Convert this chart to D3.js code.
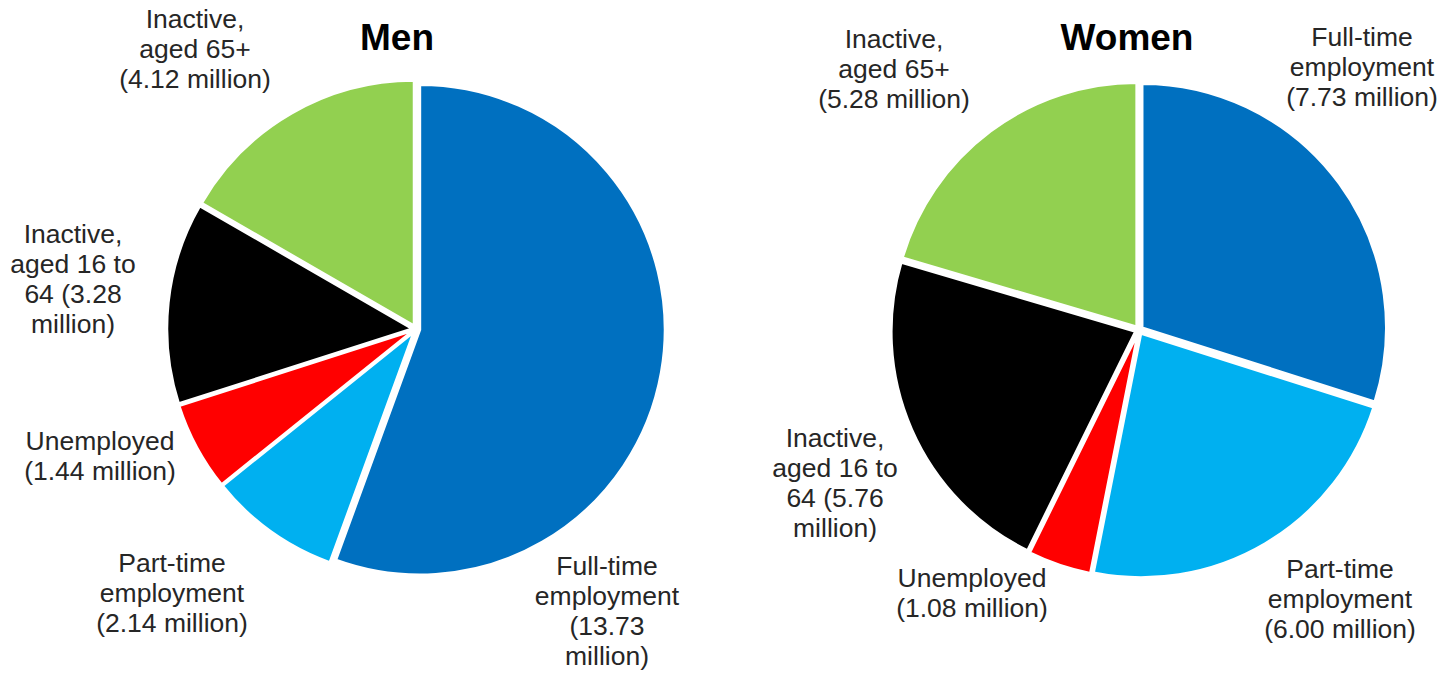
<!DOCTYPE html>
<html>
<head>
<meta charset="utf-8">
<script src="https://cdn.jsdelivr.net/npm/d3@7"></script>
<style>
  html, body { margin: 0; padding: 0; background: #fff; }
  svg { display: block; }
</style>
</head>
<body>
<svg id="chart" width="1446" height="674"></svg>
<script>
// ---- Data ----
const categories = ["Full-time employment", "Part-time employment", "Unemployed", "Inactive, aged 16 to 64", "Inactive, aged 65+"];
const menValues = [13.73, 2.14, 1.44, 3.28, 4.12];
const womenValues = [7.73, 6.00, 1.08, 5.76, 5.28];
const sliceColors = ["#0070C0", "#00B0F0", "#FF0000", "#000000", "#92D050"];
const titles = ["Men", "Women"];
// label text lines per chart (in category order)
const menLabels = [
  ["Full-time", "employment", "(13.73", "million)"],
  ["Part-time", "employment", "(2.14 million)"],
  ["Unemployed", "(1.44 million)"],
  ["Inactive,", "aged 16 to", "64 (3.28", "million)"],
  ["Inactive,", "aged 65+", "(4.12 million)"]
];
const womenLabels = [
  ["Full-time", "employment", "(7.73 million)"],
  ["Part-time", "employment", "(6.00 million)"],
  ["Unemployed", "(1.08 million)"],
  ["Inactive,", "aged 16 to", "64 (5.76", "million)"],
  ["Inactive,", "aged 65+", "(5.28 million)"]
];

// ---- Layout (positions/styles) ----
const layout = [
  { cx: 416, cy: 329, r: 245, titleX: 397, titleY: 50,
    labelPos: [[607, 575], [172, 572], [100, 450], [73, 243], [195, 28]] },
  { cx: 1139, cy: 330, r: 244, titleX: 1127, titleY: 50,
    labelPos: [[1362, 46], [1340, 578], [972, 587], [835, 447], [894, 48]] }
];
const datasets = [menValues, womenValues];
const labelSets = [menLabels, womenLabels];

const svg = d3.select("#chart");
const color = d3.scaleOrdinal().domain(categories).range(sliceColors);
const pie = d3.pie().sort(null).value(d => d.value);
const explode = 4;
const lineH = 30;

datasets.forEach((vals, k) => {
  const L = layout[k];
  const arc = d3.arc().innerRadius(0).outerRadius(L.r);
  const data = categories.map((c, i) => ({ cat: c, value: vals[i] }));
  const g = svg.append("g").attr("transform", `translate(${L.cx},${L.cy})`);
  g.selectAll("path")
    .data(pie(data))
    .join("path")
    .attr("d", arc)
    .attr("transform", d => {
      const a = (d.startAngle + d.endAngle) / 2;
      return `translate(${explode * Math.sin(a)},${-explode * Math.cos(a)})`;
    })
    .attr("fill", d => color(d.data.cat))
    .attr("stroke", "#fff")
    .attr("stroke-width", 2.5)
    .attr("stroke-linejoin", "miter");

  svg.append("text")
    .attr("x", L.titleX).attr("y", L.titleY)
    .attr("text-anchor", "middle")
    .attr("font-family", "Liberation Sans, Arial, sans-serif")
    .attr("font-weight", "bold")
    .attr("font-size", 37)
    .attr("fill", "#000")
    .text(titles[k]);

  labelSets[k].forEach((lines, i) => {
    const [x, y] = L.labelPos[i];
    const t = svg.append("text")
      .attr("text-anchor", "middle")
      .attr("font-family", "Liberation Sans, Arial, sans-serif")
      .attr("font-size", 26.5)
      .attr("fill", "#262626");
    lines.forEach((ln, j) => {
      t.append("tspan").attr("x", x).attr("y", y + j * lineH).text(ln);
    });
  });
});
</script>
</body>
</html>
